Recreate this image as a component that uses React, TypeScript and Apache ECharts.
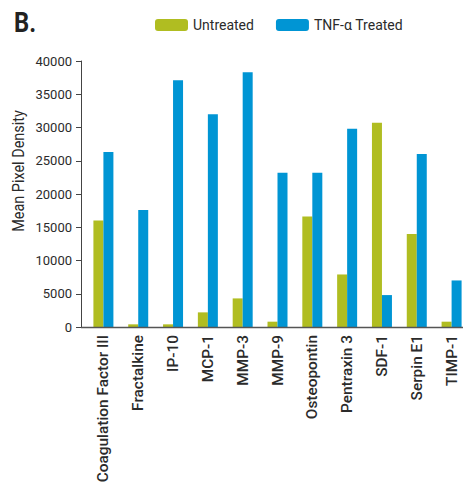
import React, { useEffect, useRef } from "react";
import * as echarts from "echarts";

const categories = [
  "Coagulation Factor III",
  "Fractalkine",
  "IP-10",
  "MCP-1",
  "MMP-3",
  "MMP-9",
  "Osteopontin",
  "Pentraxin 3",
  "SDF-1",
  "Serpin E1",
  "TIMP-1",
];
const untreated = [16000, 400, 400, 2200, 4300, 800, 16600, 7900, 30700, 14000, 800];
const tnfTreated = [26300, 17600, 37100, 32000, 38300, 23200, 23200, 29800, 4800, 26000, 7000];
const yTicks = [0, 5000, 10000, 15000, 20000, 25000, 30000, 35000, 40000];

const FONT = "Roboto, sans-serif";
const TEXT = "#2b2b2b";

export default function App() {
  const ref = useRef<HTMLDivElement>(null);
  useEffect(() => {
    if (!ref.current) return;
    const chart = echarts.init(ref.current, null, { renderer: "svg" });
    chart.setOption({
      animation: false,
      textStyle: { fontFamily: FONT },
      legend: {
        left: 150,
        top: 13,
        itemWidth: 33,
        itemHeight: 12,
        itemGap: 22,
        textStyle: { fontFamily: FONT, fontSize: 14, color: TEXT },
        data: ["Untreated", "TNF-α Treated"],
      },
      grid: {
        left: 86,
        right: -6,
        top: 61,
        bottom: 158,
        containLabel: false,
        outerBoundsMode: "none",
      },
      xAxis: {
        type: "category",
        data: categories,
        axisLine: { show: false },
        axisTick: { show: false },
        axisLabel: {
          rotate: 90,
          interval: 0,
          margin: 8,
          fontFamily: FONT,
          fontSize: 15.4,
          fontWeight: 500,
          color: TEXT,
        },
      },
      yAxis: {
        type: "value",
        min: yTicks[0],
        max: yTicks[yTicks.length - 1],
        interval: 5000,
        offset: 5,
        splitLine: { show: false },
        axisLine: { show: true, lineStyle: { color: "#444", width: 1 } },
        axisTick: { show: true, length: 5, lineStyle: { color: "#444" } },
        axisLabel: {
          margin: 9,
          fontFamily: FONT,
          fontSize: 13,
          color: TEXT,
          formatter: (v: number) => String(v),
        },
      },
      series: [
        {
          name: "Untreated",
          type: "bar",
          data: untreated,
          barWidth: 10,
          barGap: "0%",
          itemStyle: { color: "#b0bd21" },
        },
        {
          name: "TNF-α Treated",
          type: "bar",
          data: tnfTreated,
          barWidth: 10,
          barGap: "0%",
          itemStyle: { color: "#0095d4" },
        },
      ],
      graphic: [
        {
          type: "text",
          x: 14,
          y: 8,
          scaleX: 0.85,
          style: { text: "B.", fontFamily: FONT, fontSize: 28, fontWeight: "bold", fill: "#222" },
        },
        {
          type: "text",
          x: 18,
          y: 171,
          rotation: Math.PI / 2,
          scaleX: 0.85,
          style: {
            text: "Mean Pixel Density",
            fontFamily: FONT,
            fontSize: 17,
            fill: TEXT,
            textAlign: "center",
            textVerticalAlign: "middle",
          },
        },
        {
          type: "line",
          shape: { x1: 81, y1: 327.5, x2: 463, y2: 327.5 },
          style: { stroke: "#555", lineWidth: 1.5 },
          z: 10,
        },
      ],
    });
    return () => chart.dispose();
  }, []);
  return (
    <div
      ref={ref}
      style={{ position: "absolute", left: 0, top: 0, width: 463, height: 485, overflow: "hidden" }}
    />
  );
}
